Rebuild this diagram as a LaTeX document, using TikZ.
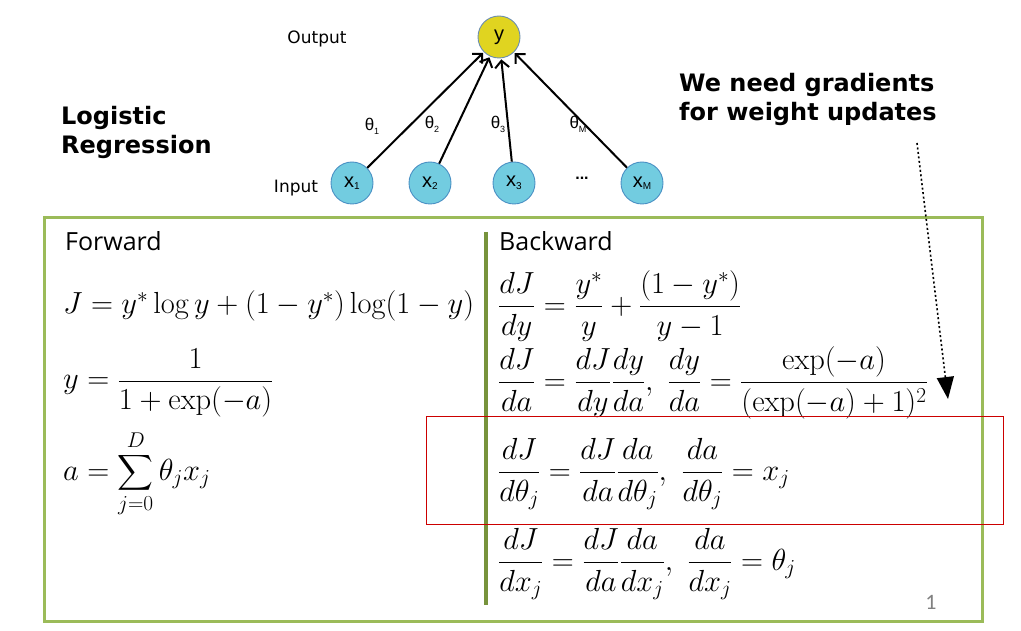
\documentclass[tikz,border=0pt]{standalone}
\usepackage{fix-cm}
\usepackage{amsmath}
\usepackage{fontspec}
\usetikzlibrary{arrows.meta}
\newfontfamily\dvb{DejaVu Sans}
\newfontfamily\osans{Open Sans}
\newfontfamily\lsans{Liberation Sans}
\newfontfamily\carl{Carlito}
\definecolor{boxgreen}{HTML}{9BBB59}
\definecolor{divgreen}{HTML}{77933C}
\definecolor{ynode}{HTML}{E0D420}
\definecolor{yborder}{HTML}{6C8EB0}
\definecolor{xnode}{HTML}{72CCE0}
\definecolor{xborder}{HTML}{4A90C4}
\definecolor{redbox}{HTML}{CC0000}
\newcommand{\sbs}[1]{\raisebox{-2.5pt}{\fontsize{10}{10}\selectfont #1}}
\newcommand{\tsb}[1]{\raisebox{-4pt}{\fontsize{9}{9}\selectfont #1}}
\tikzset{
  unit/.style={circle, minimum size=42pt, inner sep=0pt, line width=0.9pt, font=\lsans\fontsize{20}{20}\selectfont},
  ynd/.style={unit, fill=ynode, draw=yborder},
  xnd/.style={unit, fill=xnode, draw=xborder},
  wedge/.style={line width=2pt, -{Straight Barb[length=7pt,width=14pt,line width=2pt]}, shorten >=1pt},
  thlab/.style={font=\lsans\fontsize{17}{17}\selectfont, inner sep=0pt},
  lab/.style={font=\dvb\fontsize{17}{18}\selectfont, inner sep=0pt},
  bold/.style={font=\dvb\bfseries\fontsize{24}{29.5}\selectfont, align=left, inner sep=0pt, anchor=north west},
  head/.style={font=\osans\fontsize{25}{25}\selectfont, inner sep=0pt, anchor=west},
  eq/.style={font=\fontsize{30.5}{36}\selectfont, inner sep=0pt, anchor=west},
}
\begin{document}
\begin{tikzpicture}[x=1pt,y=-1pt]
\useasboundingbox (0,0) rectangle (1021,631);
% network
\node[ynd] (y) at (499,37) {y};
\node[xnd] (x1) at (352,183) {x\sbs{1}};
\node[xnd] (x2) at (430,183) {x\sbs{2}};
\node[xnd] (x3) at (514,183) {x\sbs{3}};
\node[xnd] (xM) at (642,183) {x\sbs{M}};
\node[font=\lsans\bfseries\fontsize{16}{16}\selectfont] (dots) at (582,178) {...};
\node[lab] (out) at (317,39) {Output};
\node[lab] (in) at (296,188) {Input};
\draw[wedge] (x1) -- (y);
\draw[wedge] (x2) -- (y);
\draw[wedge] (x3) -- (y);
\draw[wedge] (xM) -- (y);
\node[thlab] (t1) at (372,126) {θ\tsb{1}};
\node[thlab] (t2) at (432,124) {θ\tsb{2}};
\node[thlab] (t3) at (498,124) {θ\tsb{3}};
\node[thlab] (tM) at (578,124) {θ\tsb{M}};
% titles
\node[bold] (lr) at (61,106) {Logistic\\Regression};
\node[bold] (wn) at (679,73) {We need gradients\\for weight updates};
% green box
\draw[boxgreen, line width=3pt] (44,621) -- (44,218) -- (982,218) -- (982,621) -- cycle;
\draw[divgreen, line width=4pt] (486,232) -- (486,605);
\node[head] (fw) at (65,241) {Forward};
\node[head] (bw) at (499,241) {Backward};
% forward equations
\node[eq] (e1) at (63,306) {$J = y^{*}\log y + (1-y^{*})\log(1-y)$};
\node[eq] (e2) at (63,383) {$\displaystyle y = \frac{1}{1+\exp(-a)}$};
\node[eq] (e3) at (63,474) {$\displaystyle a = \sum_{j=0}^{D}\theta_j x_j$};
% backward equations
\node[eq] (b1) at (498,306) {$\displaystyle \frac{dJ}{dy} = \frac{y^{*}}{y} + \frac{(1-y^{*})}{y-1}$};
\node[eq] (b2) at (498,383) {$\displaystyle \frac{dJ}{da} = \frac{dJ}{dy}\frac{dy}{da},\ \frac{dy}{da} = \frac{\exp(-a)}{(\exp(-a)+1)^2}$};
\node[eq] (b3) at (498,474) {$\displaystyle \frac{dJ}{d\theta_j} = \frac{dJ}{da}\frac{da}{d\theta_j},\ \frac{da}{d\theta_j} = x_j$};
\node[eq] (b4) at (498,564) {$\displaystyle \frac{dJ}{dx_j} = \frac{dJ}{da}\frac{da}{dx_j},\ \frac{da}{dx_j} = \theta_j$};
% red box
\draw[redbox, line width=1pt] (426,416) rectangle (1003,524);
% dotted arrow
\coordinate (ds) at (917,143);
\coordinate (de) at (948,399);
\draw[line width=1.6pt, dash pattern=on 2pt off 2.5pt, -{Triangle[length=22pt,width=17pt]}] (ds) -- (de);
\node[font=\carl\fontsize{22}{22}\selectfont, text=gray] (pg) at (931,602) {1};
\end{tikzpicture}
\end{document}
